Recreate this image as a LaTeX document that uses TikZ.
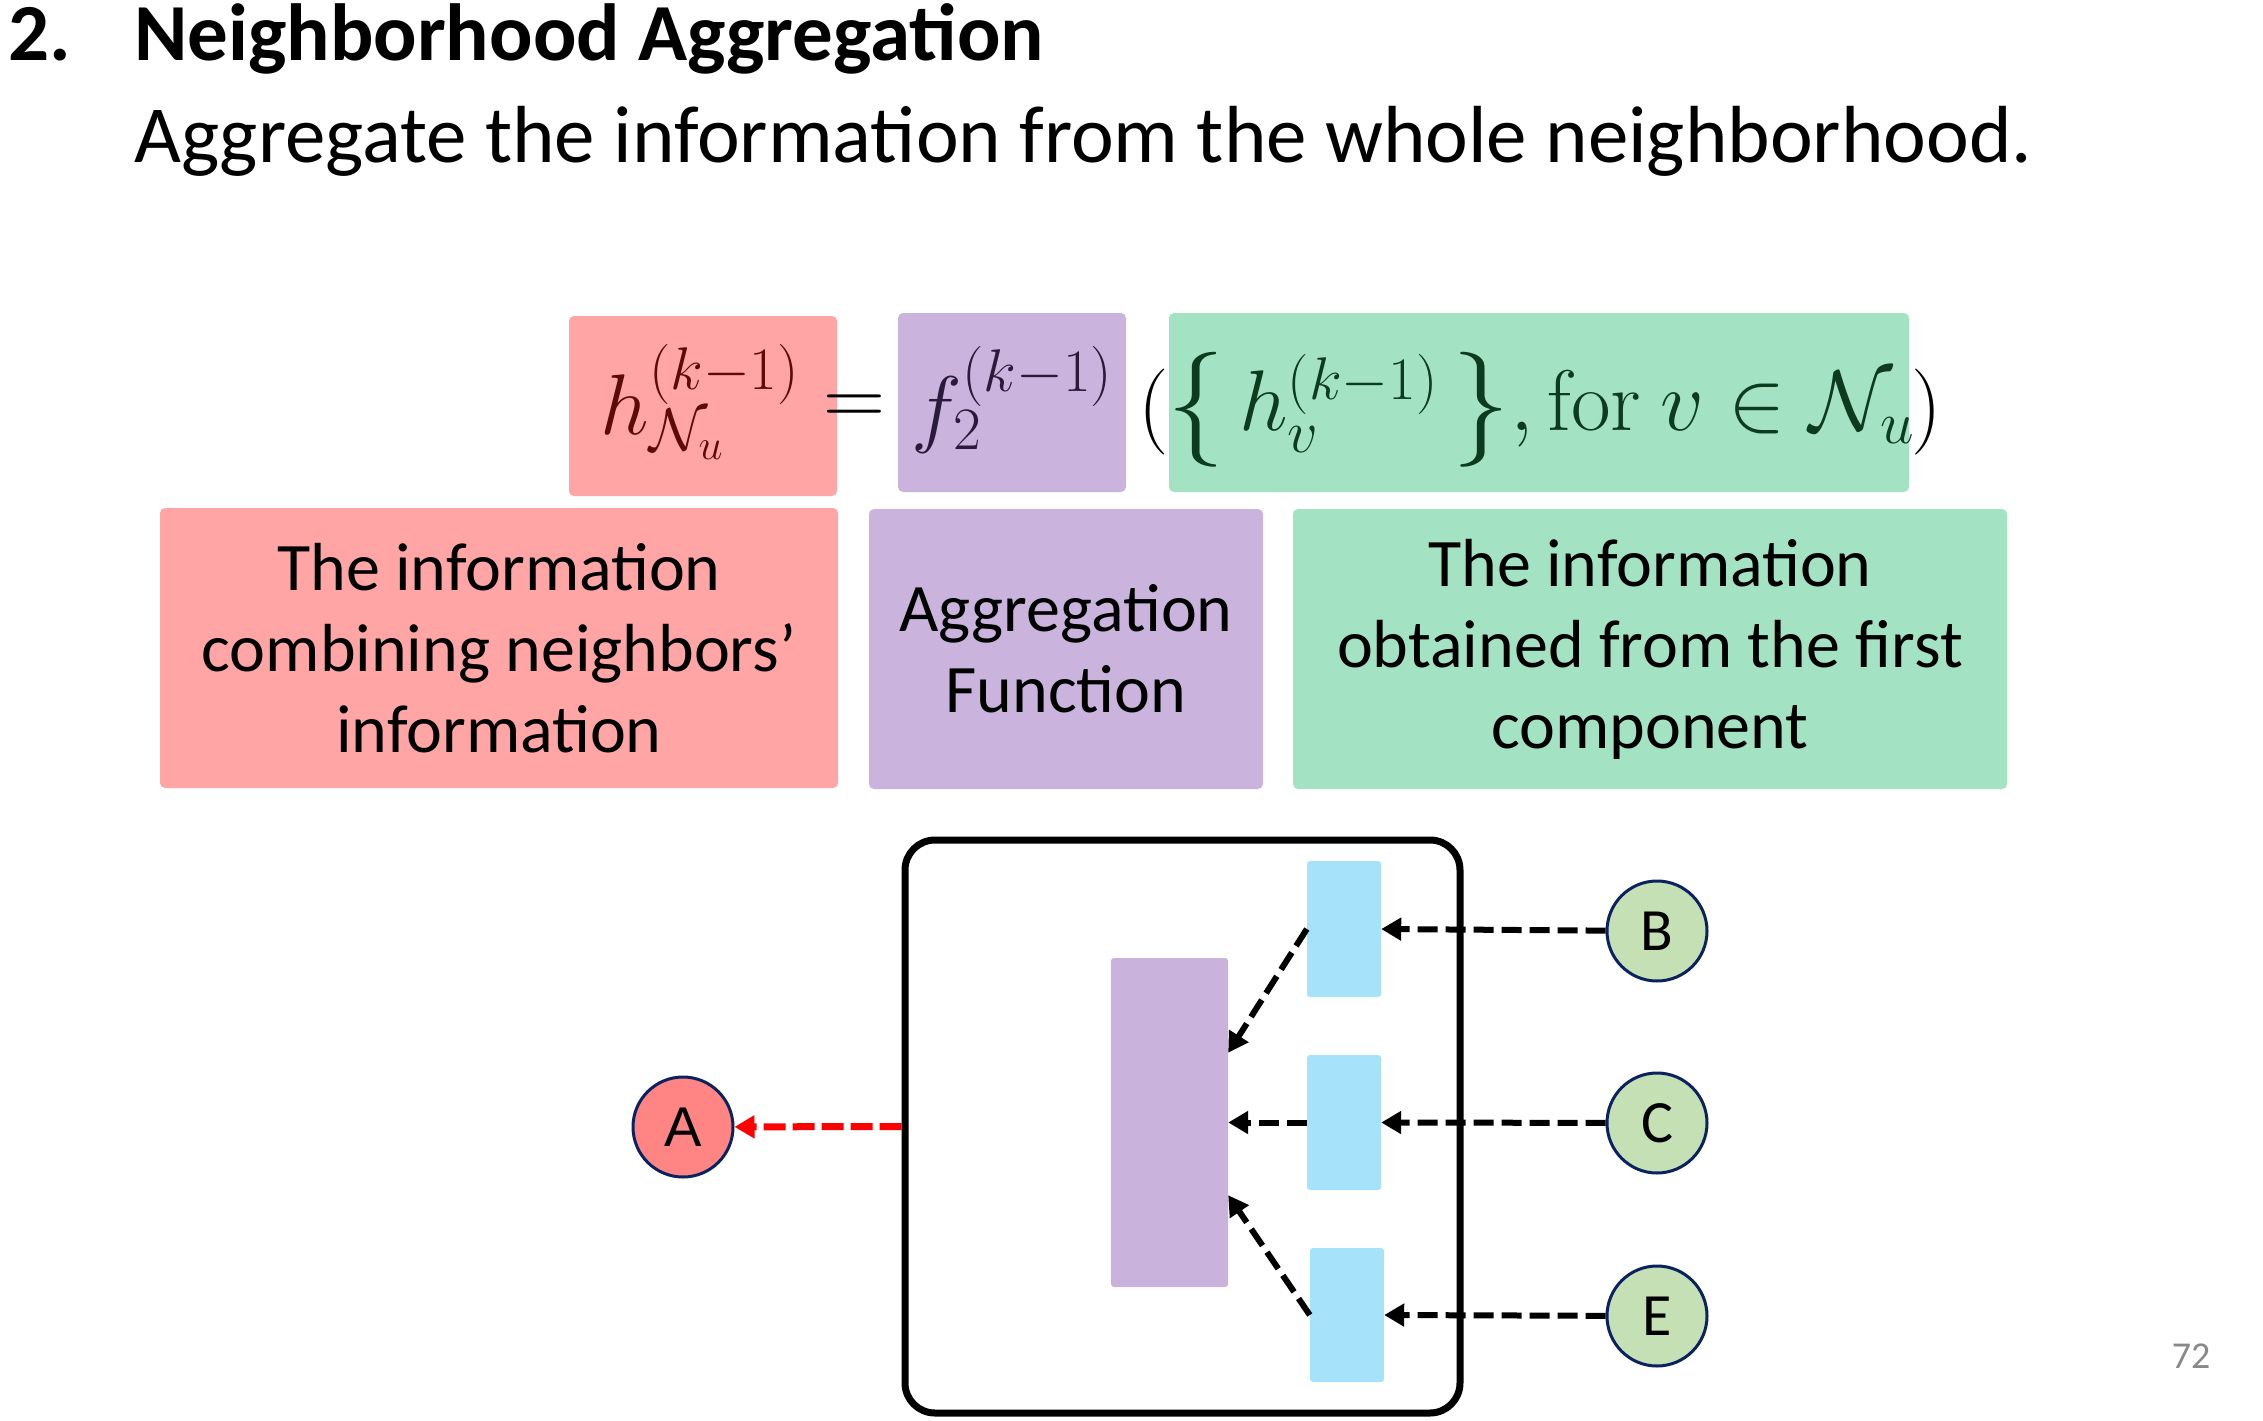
\RequirePackage{fix-cm}
\documentclass[tikz,border=0pt]{standalone}
\usepackage{amsmath}
\usepackage[no-math]{fontspec}
\setmainfont{Carlito}
\newfontfamily\arialfont{Liberation Sans}
\usetikzlibrary{arrows.meta,calc}
\newcommand{\lbig}{\mathopen{\raisebox{-8pt}{\fontsize{115}{115}\selectfont$\{$}}}
\newcommand{\rbig}{\mathclose{\raisebox{-8pt}{\fontsize{115}{115}\selectfont$\}$}}}
\definecolor{redbox}{HTML}{FFA5A5}
\definecolor{purbox}{HTML}{CAB4DD}
\definecolor{grnbox}{HTML}{A3E2C3}
\definecolor{redtxt}{HTML}{5C0A0A}
\definecolor{purtxt}{HTML}{2B1A3A}
\definecolor{grntxt}{HTML}{0C3B1E}
\definecolor{bluebar}{HTML}{A6E2FA}
\definecolor{aggbar}{HTML}{C9B3DC}
\definecolor{nodeA}{HTML}{FF8585}
\definecolor{nodeG}{HTML}{C5E0B4}
\definecolor{navy}{HTML}{0A2360}
\definecolor{pagegray}{HTML}{898989}
\tikzset{
  cbox/.style={rounded corners=5pt, inner sep=0pt, draw=none},
  desc/.style={cbox, align=center, font=\fontsize{68}{81}\selectfont},
  mathtxt/.style={inner sep=0pt, font=\fontsize{86}{100}\selectfont},
  bar/.style={inner sep=0pt, draw=none, rounded corners=3pt},
  vert/.style={circle, minimum size=100pt, inner sep=0pt, draw=navy, line width=3pt, font=\fontsize{60}{70}\selectfont},
  darr/.style={line width=6pt, dash pattern=on 20pt off 8pt, -{Triangle[length=20pt,width=22pt]}},
}
\begin{document}
\begin{tikzpicture}[x=1pt,y=-1pt]
\useasboundingbox (0,0) rectangle (2263,1421);
% title
\node[anchor=base west, inner sep=0pt, font=\fontsize{81}{90}\selectfont\bfseries] (num) at (8,61) {2.};
\node[anchor=base west, inner sep=0pt, font=\fontsize{81}{90}\selectfont\bfseries] (title) at (134,61) {Neighborhood Aggregation};
\node[anchor=base west, inner sep=0pt, font=\fontsize{81}{90}\selectfont] (sub) at (134,162) {Aggregate the information from the whole neighborhood.};
% formula boxes
\node[cbox, fill=redbox, minimum width=268pt, minimum height=180pt] (redf) at (703,406) {};
\node[cbox, fill=purbox, minimum width=228pt, minimum height=179pt] (purf) at (1012,402.5) {};
\node[cbox, fill=grnbox, minimum width=740pt, minimum height=179pt] (grnf) at (1539,402.5) {};
\node[mathtxt, text=redtxt] (hN) at (700,402) {$h_{\mathcal{N}_u}^{(k-1)}$};
\node[mathtxt] (eq) at (854,410) {$=$};
\node[mathtxt, text=purtxt] (f2) at (1012,400) {$f_2^{(k-1)}$};
\node[mathtxt] (lp) at (1154,412) {$($};
\node[mathtxt] (rp) at (1927,412) {$)$};
\node[mathtxt, text=grntxt] (hv) at (1541,410) {$\lbig\, h_v^{(k-1)} \,\rbig, \mathrm{for}\ v \in \mathcal{N}_u$};
% description boxes
\node[desc, fill=redbox, minimum width=678pt, minimum height=280pt] (descR) at (499,648) {The information\\combining neighbors’\\information};
\node[desc, fill=purbox, minimum width=394pt, minimum height=280pt] (descP) at (1066,649) {Aggregation\\Function};
\node[desc, fill=grnbox, minimum width=714pt, minimum height=280pt] (descG) at (1650,649) {The information\\obtained from the first\\component};
% diagram
\node[draw=black, line width=7pt, rounded corners=30pt, minimum width=555pt, minimum height=573pt, inner sep=0pt] (outer) at (1182.5,1126.5) {};
\node[bar, fill=aggbar, minimum width=117pt, minimum height=329pt] (agg) at (1169.5,1122.5) {};
\node[bar, fill=bluebar, minimum width=74pt, minimum height=136pt] (b1) at (1344,929) {};
\node[bar, fill=bluebar, minimum width=74pt, minimum height=135pt] (b2) at (1344,1122.5) {};
\node[bar, fill=bluebar, minimum width=74pt, minimum height=134pt] (b3) at (1347,1315) {};
\node[vert, fill=nodeG] (B) at (1657,931) {B};
\node[vert, fill=nodeG] (C) at (1657,1123) {C};
\node[vert, fill=nodeG] (E) at (1657,1316) {E};
\node[vert, fill=nodeA, font=\fontsize{56}{66}\selectfont\arialfont] (A) at (683,1127) {A};
\coordinate (aggT) at ($(agg.north east)+(0,95)$);
\coordinate (aggB) at ($(agg.south east)+(0,-92)$);
\draw[darr] (B) -- (b1.east);
\draw[darr] (C) -- (b2.east);
\draw[darr] (E) -- (b3.east);
\draw[darr] (b1.west) -- (aggT);
\draw[darr] (b2.west) -- (agg.east);
\draw[darr] (b3.west) -- (aggB);
\draw[darr, red, line width=7pt, dash pattern=on 22pt off 7pt] (outer.west) -- (A);
% page number
\node[inner sep=0pt, text=pagegray, font=\fontsize{38}{44}\selectfont] (page) at (2191,1356) {72};
\end{tikzpicture}
\end{document}
